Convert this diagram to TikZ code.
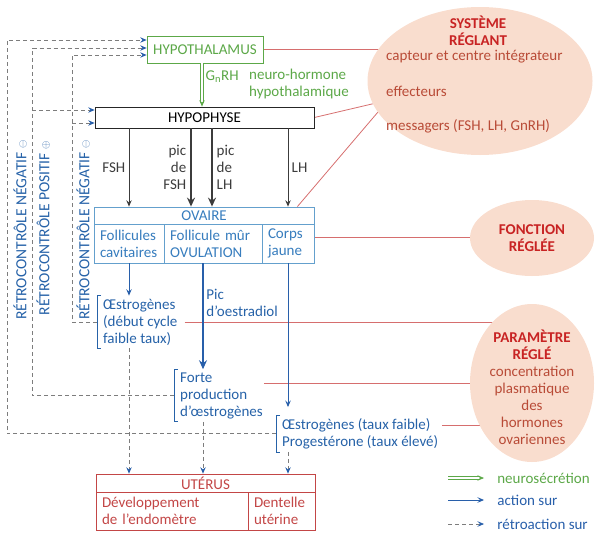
\documentclass[tikz,border=0pt]{standalone}
\usepackage{fontspec}
\setmainfont{Carlito}
\usetikzlibrary{arrows.meta,shapes.geometric,backgrounds}

\definecolor{vert}{RGB}{92,168,72}
\definecolor{bleu}{RGB}{38,98,168}
\definecolor{bleuov}{RGB}{55,125,190}
\definecolor{bleuclair}{RGB}{100,160,205}
\definecolor{fleche}{RGB}{40,95,170}
\definecolor{rouge}{RGB}{200,35,35}
\definecolor{brique}{RGB}{185,75,55}
\definecolor{lienrouge}{RGB}{214,110,110}
\definecolor{uterus}{RGB}{195,70,70}
\definecolor{peche}{RGB}{249,221,206}
\definecolor{gris}{RGB}{125,125,125}
\definecolor{noir}{RGB}{60,60,60}

\newcommand{\rtitre}[1]{\textbf{\textcolor{rouge}{#1}}}
\newcommand{\signe}[1]{\raisebox{0.5pt}{\fontsize{11}{11}\selectfont$#1$}}

\begin{document}
\begin{tikzpicture}[x=1pt,y=-1pt,%
        every node/.style={font=\fontsize{15}{17}\selectfont},%
        pointe/.style={-{Stealth[length=6.5pt,width=5.5pt,inset=2.5pt]}},%
        hormone/.style={draw=noir, text=noir, line width=0.8pt, pointe},%
        act/.style={draw=fleche, line width=0.8pt, pointe},%
        fort/.style={line width=2.8pt, -{Stealth[length=9pt,width=8pt,inset=3pt]}},%
        retro/.style={draw=gris, line width=0.7pt, dash pattern=on 4pt off 3pt,%
                        -{Stealth[length=6.5pt,width=5.5pt,inset=2.5pt,color=fleche]}},%
        neuro/.style={draw=vert, line width=0.7pt, double=white,%
                        double distance=1.8pt, pointe},%
        lien/.style={draw=lienrouge, line width=0.8pt},%
        boite/.style={line width=0.8pt, fill=white, inner sep=0pt},%
        cellule/.style={boite, align=left, inner xsep=6pt, minimum height=39pt},%
        bulle/.style={ellipse, fill=peche, inner sep=0pt},%
        txt/.style={text=bleu, align=left, inner xsep=1pt, inner ysep=3pt},%
        retrotxt/.style={text=bleu, rotate=90,%
                        font=\fontsize{15.5}{17}\selectfont}]
\useasboundingbox (0,0) rectangle (599,536);

% boites
\node[boite, draw=vert, text=vert, minimum width=116pt, minimum height=27pt] (hth) at (205,49.5) {HYPOTHALAMUS};
\node[boite, draw=black!85, minimum width=219pt, minimum height=21pt] (hph) at (204.5,117.5) {HYPOPHYSE};
\node[boite, draw=bleuclair, text=bleuov, minimum width=220pt, minimum height=17pt] (ovt) at (204,215.5) {OVAIRE};
\node[cellule, draw=bleuclair, text=bleuov, text width=58pt] (fc) at (129,243.5) {Follicules\\cavitaires};
\node[cellule, draw=bleuclair, text=bleuov, text width=86pt] (fm) at (213,243.5) {Follicule mûr\\OVULATION};
\node[cellule, draw=bleuclair, text=bleuov, text width=40pt] (cj) at (288,243.5) {Corps\\jaune};
\node[boite, draw=uterus, text=uterus, minimum width=219pt, minimum height=18pt] (ut) at (205.5,483) {UTÉRUS};
\node[cellule, draw=uterus, text=uterus, text width=140pt, minimum height=38pt] (ud) at (172,511) {Développement\\de l'endomètre};
\node[cellule, draw=uterus, text=uterus, text width=55pt, minimum height=38pt] (dt) at (281.5,511) {Dentelle\\utérine};

\node[txt, anchor=west] (es1) at (102,322) {Œstrogènes\\(début cycle\\faible taux)};
\node[txt, anchor=west] (fp) at (179,395.5) {Forte\\production\\d'œstrogènes};
\node[txt, anchor=west] (op) at (281,433.5) {Œstrogènes (taux faible)\\Progestérone (taux élevé)};
\foreach \t in {es1,fp,op}
    \draw[draw=bleu, line width=0.8pt] ([xshift=-1pt]\t.north west) -- ([xshift=-5pt]\t.north west)
        -- ([xshift=-5pt]\t.south west) -- ([xshift=-1pt]\t.south west);

% bulles
\node[bulle, minimum width=225pt, minimum height=148pt] (sys) at (480,81) {};
\node[text=rouge, align=center, font=\fontsize{15}{17}\selectfont\bfseries] (sysT) at (478,31) {SYSTÈME\\RÉGLANT};
\node[text=brique, anchor=west, inner sep=1pt] (cap) at (385,57) {capteur et centre intégrateur};
\node[text=brique, anchor=west, inner sep=1pt] (eff) at (385,91) {effecteurs};
\node[text=brique, anchor=west, inner sep=1pt] (mes) at (385,126) {messagers (FSH, LH, GnRH)};
\node[bulle, minimum width=124pt, minimum height=76pt, align=center, text=rouge,%
      font=\fontsize{15}{17}\selectfont\bfseries] (fct) at (532,238) {FONCTION\\RÉGLÉE};
\node[bulle, minimum width=124pt, minimum height=158pt] (par) at (532,383) {};
\node[text=brique, align=center] (parT) at (532,387) {\rtitre{PARAMÈTRE}\\\rtitre{RÉGLÉ}\\concentration\\plasmatique\\des\\hormones\\ovariennes};

% liens rouges
\coordinate (cjR) at ([yshift=6pt]cj.east);
\coordinate (esR) at ([xshift=6pt]es1.east);
\coordinate (fpR) at ([yshift=-14pt]fp.north east);
\coordinate (opR) at ([shift={(3pt,8.5pt)}]op.east);
\begin{scope}[on background layer]
    \draw[lien] (hth.east) -- (hth.east -| sys.center);
    \draw[lien] (hph.east) -- (sys.192);
    \draw[lien] ([xshift=-17pt]ovt.north east) -- (sys.197);
    \draw[lien] (cjR) -- (cjR -| fct.center);
    \draw[lien] (esR) -- (esR -| par.center);
    \draw[lien] (fpR) -- (fpR -| par.center);
    \draw[lien] (opR) -- (opR -| par.center);
\end{scope}

% GnRH
\coordinate (g0) at ([xshift=-3pt]hth.south);
\draw[neuro] (g0) -- node[right, pos=0.3, text=vert] (gnrh) {G\textsubscript{n}RH} (g0 |- hph.north);
\node[text=vert, align=left, anchor=west, inner sep=1pt] (nh) at (248,83.5) {neuro-hormone\\hypothalamique};

% hormones hypophysaires
\coordinate (xF) at (191,0);
\coordinate (xL) at (212,0);
\draw[hormone] (hph.south -| fc.north) -- node[left]{FSH} (ovt.north -| fc.north);
\draw[hormone, fort] (hph.south -| xF) -- node[left, align=right]{pic\\de\\FSH} (ovt.north -| xF);
\draw[hormone, fort] (hph.south -| xL) -- node[right, align=left]{pic\\de\\LH} (ovt.north -| xL);
\draw[hormone] (hph.south -| cj.north) -- node[right]{LH} (ovt.north -| cj.north);

% ovaire
\coordinate (xO) at ([xshift=-10pt]fm.south);
\coordinate (opT) at ([yshift=8pt]op.north);
\draw[act] (fc.south) -- (fc.south |- es1.north);
\draw[act, fort] (xO) -- node[right, pos=0.37, align=left, text=bleu, inner xsep=2pt]{Pic\\d'oestradiol} (xO |- fp.north);
\draw[act] (cj.south) -- (cj.south |- opT);
\draw[retro] (fc.south |- es1.south) -- (fc.south |- ut.north);
\draw[retro] (xO |- fp.south) -- (xO |- ut.north);
\draw[retro] (cj.south |- op.south) -- (cj.south |- ut.north);

% retrocontroles
\coordinate (rA) at (7,0);
\coordinate (rB) at (32,0);
\coordinate (rC) at (72,0);
\coordinate (hA) at ([yshift=9.5pt]hth.west);
\coordinate (hB) at ([yshift=1.5pt]hth.west);
\coordinate (hC) at ([yshift=-5.5pt]hth.west);
\coordinate (pB) at ([yshift=7.5pt]hph.west);
\coordinate (pC) at ([yshift=-5.5pt]hph.west);
\draw[retro] ([xshift=-5pt]op.west) -| (rA |- hA) -- (hA);
\draw[retro] ([xshift=-5pt]fp.west) -| (rB |- hB) -- (hB);
\draw[retro] (rB |- pB) -- (pB);
\draw[retro] ([xshift=-5pt]es1.west) -| (rC |- hC) -- (hC);
\draw[retro] (rC |- pC) -- (pC);
\node[retrotxt] (nA) at (20,230) {RÉTROCONTRÔLE NÉGATIF \signe{\ominus}};
\node[retrotxt] (nB) at (43,228) {RÉTROCONTRÔLE POSITIF \signe{\oplus}};
\node[retrotxt] (nC) at (83,230) {RÉTROCONTRÔLE NÉGATIF \signe{\ominus}};

% legende
\coordinate (l1a) at (448,478); \coordinate (l1b) at (484,478);
\coordinate (l2a) at (448,500); \coordinate (l2b) at (484,500);
\coordinate (l3a) at (448,524); \coordinate (l3b) at (484,524);
\draw[neuro] (l1a) -- (l1b) node[right=12pt, text=vert, inner sep=1pt] (lg1) {neurosécrétion};
\draw[act] (l2a) -- (l2b) node[right=12pt, text=fleche, inner sep=1pt] (lg2) {action sur};
\draw[retro] (l3a) -- (l3b) node[right=12pt, text=fleche, inner sep=1pt] (lg3) {rétroaction sur};
\end{tikzpicture}
\end{document}
